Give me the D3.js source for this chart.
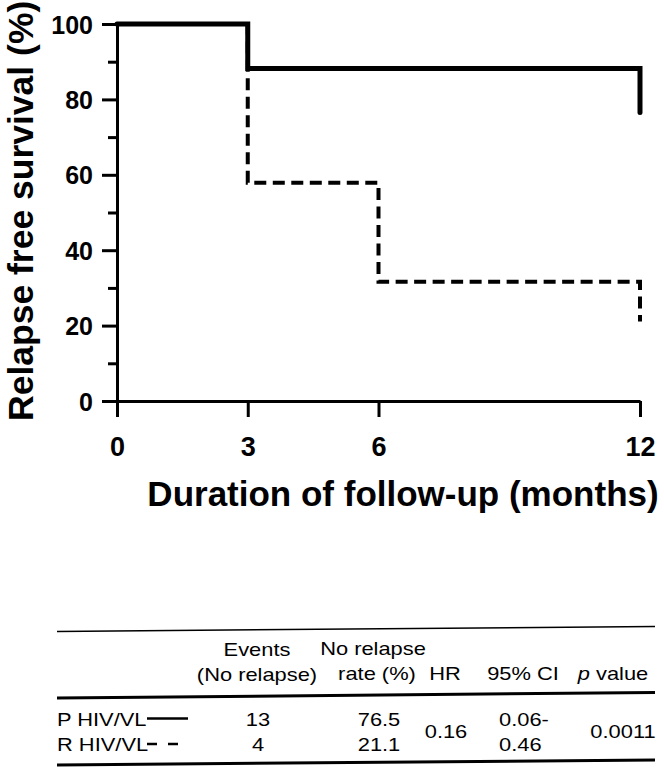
<!DOCTYPE html>
<html>
<head>
<meta charset="utf-8">
<script src="https://cdn.jsdelivr.net/npm/d3@7"></script>
<style>
  html, body { margin: 0; padding: 0; background: #fff; }
  svg { display: block; }
  text { font-family: "Liberation Sans", Arial, Helvetica, sans-serif; fill: #000; }
</style>
</head>
<body>
<svg id="chart" width="664" height="769"></svg>
<script>
// ---- data ----
const xTicks = [0, 3, 6, 12];
const yTicks = [0, 20, 40, 60, 80, 100];
const yMinorTicks = [10, 30, 50, 70, 90];
const pTimes = [0, 3, 12, 12];
const pSurv = [100, 88.2, 88.2, 76.5];
const rTimes = [0, 3, 6, 12, 12];
const rSurv = [100, 57.9, 31.6, 31.6, 21.1];
const xTitle = "Duration of follow-up (months)";
const yTitle = "Relapse free survival (%)";

// table data
const groupNames = ["P HIV/VL", "R HIV/VL"];
const events = ["13", "4"];
const noRelapseRate = ["76.5", "21.1"];
const hrValue = "0.16";
const ciValues = ["0.06-", "0.46"];
const pValue = "0.0011";

// ---- chart ----
const svg = d3.select("#chart");
const x = d3.scaleLinear().domain([0, 12]).range([117, 640]);
const y = d3.scaleLinear().domain([0, 100]).range([401, 24]);

// y axis major
const gy = svg.append("g").attr("transform", `translate(${x(0)},0)`)
  .call(d3.axisLeft(y).tickValues(yTicks).tickSize(15).tickSizeOuter(0).tickPadding(9).tickFormat(d3.format("d")));
gy.select(".domain").attr("stroke-width", 3).attr("stroke", "#000");
gy.selectAll(".tick line").attr("stroke-width", 3).attr("stroke", "#000");
gy.selectAll(".tick text").attr("font-size", 25).attr("font-weight", "bold")
  .attr("font-family", "Liberation Sans, Arial, sans-serif").attr("dy", "0.36em");

// y axis minor
const gym = svg.append("g").attr("transform", `translate(${x(0)},0)`)
  .call(d3.axisLeft(y).tickValues(yMinorTicks).tickSize(9).tickSizeOuter(0).tickFormat(""));
gym.select(".domain").remove();
gym.selectAll(".tick line").attr("stroke-width", 3).attr("stroke", "#000");

// x axis
const gx = svg.append("g").attr("transform", `translate(0,${y(0)})`)
  .call(d3.axisBottom(x).tickValues(xTicks).tickSize(16).tickSizeOuter(0).tickPadding(0).tickFormat(d3.format("d")));
gx.select(".domain").attr("stroke-width", 3).attr("stroke", "#000");
gx.selectAll(".tick line").attr("stroke-width", 3).attr("stroke", "#000");
gx.selectAll(".tick text").attr("font-size", 27).attr("font-weight", "bold")
  .attr("font-family", "Liberation Sans, Arial, sans-serif")
  .attr("y", 54.5).attr("dy", null);

// curves
const line = d3.line().x(d => x(d[0])).y(d => y(d[1])).curve(d3.curveStepAfter);
svg.append("path")
  .attr("d", line(rTimes.map((t, i) => [t, rSurv[i]])))
  .attr("fill", "none").attr("stroke", "#000").attr("stroke-width", 4)
  .attr("stroke-dasharray", "12,6.5");
svg.append("path")
  .attr("d", line(pTimes.map((t, i) => [t, pSurv[i]])))
  .attr("fill", "none").attr("stroke", "#000").attr("stroke-width", 5)
  .attr("stroke-linecap", "round");

// titles
svg.append("text").attr("x", 403).attr("y", 506).attr("text-anchor", "middle")
  .attr("font-size", 35).attr("font-weight", "bold").text(xTitle);
svg.append("text").attr("transform", "translate(33,421) rotate(-90)")
  .attr("text-anchor", "start").attr("font-size", 35.5).attr("font-weight", "bold").text(yTitle);

// ---- table ----
const tbl = svg.append("g");
const SX = 1.25, FS = 17.5;
function ttext(tx, ty, str, anchor) {
  return tbl.append("text")
    .attr("transform", `translate(${tx},${ty}) scale(${SX},1)`)
    .attr("text-anchor", anchor || "middle")
    .attr("font-size", FS)
    .text(str);
}
tbl.append("line").attr("x1", 57).attr("y1", 631.5).attr("x2", 655).attr("y2", 626.5)
  .attr("stroke", "#000").attr("stroke-width", 1.5);
tbl.append("line").attr("x1", 57).attr("y1", 698).attr("x2", 655).attr("y2", 692.5)
  .attr("stroke", "#000").attr("stroke-width", 3);
tbl.append("line").attr("x1", 57).attr("y1", 765).attr("x2", 655).attr("y2", 760)
  .attr("stroke", "#000").attr("stroke-width", 3);

// header
ttext(257, 656, "Events");
ttext(257, 681, "(No relapse)");
ttext(373, 655, "No relapse");
ttext(377, 680, "rate (%)");
ttext(445, 680, "HR");
ttext(523, 680, "95% CI");
const pv = tbl.append("text")
  .attr("transform", `translate(613,680) scale(${SX},1)`)
  .attr("text-anchor", "middle").attr("font-size", FS);
pv.append("tspan").attr("font-style", "italic").text("p");
pv.append("tspan").text(" value");

// rows
const rowY = [726, 751];
groupNames.forEach((g, i) => {
  ttext(57, rowY[i], g, "start");
  ttext(258, rowY[i], events[i]);
  ttext(379, rowY[i], noRelapseRate[i]);
  ttext(499, rowY[i], ciValues[i], "start");
});
ttext(446, 738, hrValue);
ttext(623, 738, pValue);

// legend swatches
tbl.append("line").attr("x1", 147).attr("x2", 188).attr("y1", 718.5).attr("y2", 718.5)
  .attr("stroke", "#000").attr("stroke-width", 2.5);
tbl.append("line").attr("x1", 147).attr("x2", 180).attr("y1", 744).attr("y2", 744)
  .attr("stroke", "#000").attr("stroke-width", 2.5).attr("stroke-dasharray", "10,11");
</script>
</body>
</html>
